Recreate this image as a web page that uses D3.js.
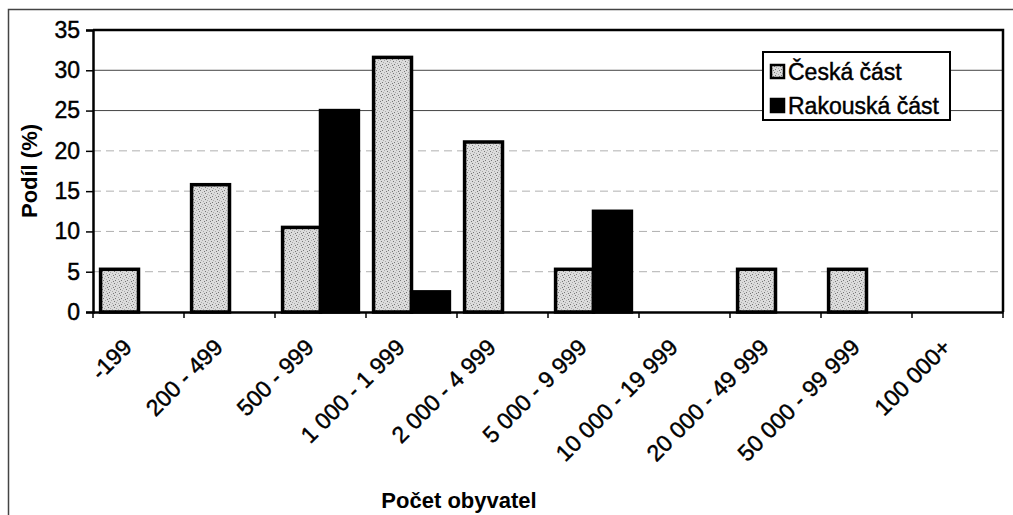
<!DOCTYPE html>
<html>
<head>
<meta charset="utf-8">
<script src="https://cdn.jsdelivr.net/npm/d3@7"></script>
<style>
  body { margin: 0; background: #fff; overflow: hidden; }
  text { font-family: "Liberation Sans", Arial, sans-serif; fill: #000; }
  .scan { stroke: #000; stroke-width: 0.45; }
</style>
</head>
<body>
<script>
const categories = ["-199", "200 - 499", "500 - 999", "1 000 - 1 999", "2 000 - 4 999",
  "5 000 - 9 999", "10 000 - 19 999", "20 000 - 49 999", "50 000 - 99 999", "100 000+"];
const ceska = [5.3, 15.8, 10.5, 31.6, 21.1, 5.3, 0, 5.3, 5.3, 0];
const rakouska = [0, 0, 25, 2.5, 0, 12.5, 0, 0, 0, 0];
const seriesNames = ["Česká část", "Rakouská část"];
const yTicks = [0, 5, 10, 15, 20, 25, 30, 35];

const width = 1013, height = 515;
const plot = { left: 93, right: 1003, top: 30, bottom: 312 };

const svg = d3.select("body").append("svg")
  .attr("width", width).attr("height", height);

// stipple texture for the Czech bars
const defs = svg.append("defs");
const pat = defs.append("pattern")
  .attr("id", "stipple").attr("patternUnits", "userSpaceOnUse")
  .attr("width", 6).attr("height", 6);
pat.append("rect").attr("width", 6).attr("height", 6).attr("fill", "#dcdcdc");
[[0, 0], [3, 1], [1, 3], [4, 4], [5, 2], [2, 5]].forEach(([x, y], i) => {
  pat.append("rect").attr("x", x).attr("y", y).attr("width", 1).attr("height", 1)
    .attr("fill", i % 2 ? "#777" : "#aaa");
});

// outer chart frame (runs off the right / bottom edge)
svg.append("path")
  .attr("d", `M8.5,${height}V9.5H${width}`)
  .attr("fill", "none").attr("stroke", "#444").attr("stroke-width", 1.5);

const x = d3.scaleBand().domain(categories).range([plot.left, plot.right]);
const xs = d3.scaleBand().domain(seriesNames).range([0, x.bandwidth()]).paddingOuter(0.2);
const y = d3.scaleLinear().domain([0, 35]).range([plot.bottom, plot.top]);

// gridlines
svg.append("g")
  .selectAll("line")
  .data(yTicks.filter(d => d > 0 && d < 35))
  .join("line")
  .attr("x1", plot.left).attr("x2", plot.right)
  .attr("y1", d => y(d)).attr("y2", d => y(d))
  .attr("stroke", d => d >= 25 ? "#444" : "#b0b0b0")
  .attr("stroke-width", 1)
  .attr("stroke-dasharray", d => d >= 25 ? null : "8,5");

// bars
const data = categories.map((c, i) => ({ cat: c, values: [ceska[i], rakouska[i]] }));
const groups = svg.append("g")
  .selectAll("g")
  .data(data)
  .join("g")
  .attr("transform", d => `translate(${x(d.cat)},0)`);

groups.selectAll("rect")
  .data(d => d.values.map((v, j) => ({ name: seriesNames[j], v })).filter(e => e.v > 0))
  .join("rect")
  .attr("x", d => xs(d.name))
  .attr("width", xs.bandwidth())
  .attr("y", d => y(d.v))
  .attr("height", d => y(0) - y(d.v))
  .attr("fill", d => d.name === seriesNames[0] ? "url(#stipple)" : "#000")
  .attr("stroke", "#000")
  .attr("stroke-width", 3.5);

// plot frame (top + right)
svg.append("path")
  .attr("d", `M${plot.left},${plot.top}H${plot.right}V${plot.bottom}`)
  .attr("fill", "none").attr("stroke", "#000").attr("stroke-width", 2.5);

// y axis
const yAxis = svg.append("g")
  .attr("transform", `translate(${plot.left},0)`)
  .call(d3.axisLeft(y).tickValues(yTicks).tickSize(7).tickPadding(6));
yAxis.select(".domain").attr("stroke-width", 2.5);
yAxis.selectAll(".tick line").attr("stroke-width", 1.5);
yAxis.selectAll("text")
  .attr("class", "scan")
  .attr("font-size", 23).attr("font-family", "Liberation Sans, Arial, sans-serif");

// x axis
const xAxis = svg.append("g")
  .attr("transform", `translate(0,${plot.bottom})`)
  .call(d3.axisBottom(x).tickValues([]).tickSizeOuter(0));
xAxis.select(".domain").attr("stroke-width", 2.5);
xAxis.selectAll(".edge")
  .data(categories.concat([null]))
  .join("line")
  .attr("x1", (d, i) => plot.left + i * x.step())
  .attr("x2", (d, i) => plot.left + i * x.step())
  .attr("y1", 0).attr("y2", 6)
  .attr("stroke", "#000").attr("stroke-width", 1.5);

svg.append("g")
  .selectAll("text")
  .data(categories)
  .join("text")
  .attr("class", "scan")
  .attr("transform", d => `translate(${x(d) + x.bandwidth() / 2 - 11},${plot.bottom + 31}) rotate(-45)`)
  .attr("text-anchor", "end")
  .attr("dy", "0.35em")
  .attr("font-size", 23)
  .text(d => d);

// axis titles
svg.append("text")
  .attr("transform", `translate(37,${(plot.top + plot.bottom) / 2}) rotate(-90)`)
  .attr("text-anchor", "middle")
  .attr("font-size", 22).attr("font-weight", "bold")
  .text("Podíl (%)");

svg.append("text")
  .attr("x", 459).attr("y", 508)
  .attr("text-anchor", "middle")
  .attr("font-size", 22).attr("font-weight", "bold")
  .text("Počet obyvatel");

// legend
const legend = svg.append("g").attr("transform", "translate(763,52)");
legend.append("rect")
  .attr("width", 187).attr("height", 68)
  .attr("fill", "#fff").attr("stroke", "#000").attr("stroke-width", 2);
const li = legend.selectAll("g")
  .data(seriesNames)
  .join("g")
  .attr("transform", (d, i) => `translate(8,${13 + i * 34})`);
li.append("rect")
  .attr("width", 13).attr("height", 13)
  .attr("fill", (d, i) => i === 0 ? "url(#stipple)" : "#000")
  .attr("stroke", "#000").attr("stroke-width", 2.5);
li.append("text")
  .attr("class", "scan")
  .attr("x", 17).attr("y", 15)
  .attr("font-size", 23)
  .text(d => d);
</script>
</body>
</html>
